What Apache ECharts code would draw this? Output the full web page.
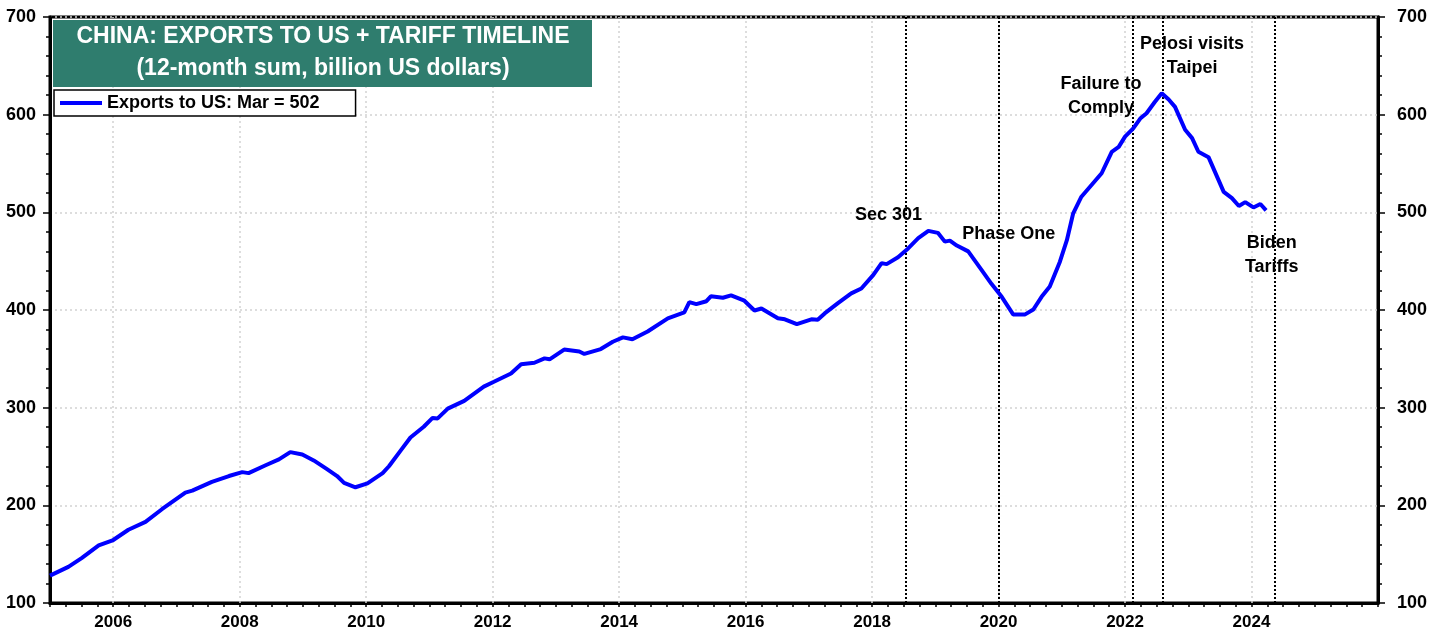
<!DOCTYPE html>
<html>
<head>
<meta charset="utf-8">
<script src="https://cdn.jsdelivr.net/npm/echarts@6/dist/echarts.min.js"></script>
<style>
  html, body { margin: 0; padding: 0; background: #fff; }
  #chart { width: 1439px; height: 637px; }
</style>
</head>
<body>
<div id="chart"></div>
<script>
// 12-month sum of China's exports to the US, billion USD
const dates = [
  2005.0, 2005.29, 2005.5, 2005.77, 2006.0, 2006.24, 2006.51, 2006.77, 2007.14, 2007.25,
  2007.56, 2007.83, 2008.04, 2008.14, 2008.41, 2008.62, 2008.8, 2008.99, 2009.17, 2009.38,
  2009.54, 2009.65, 2009.83, 2010.02, 2010.26, 2010.36, 2010.55, 2010.7, 2010.91, 2011.05,
  2011.13, 2011.29, 2011.55, 2011.86, 2012.02, 2012.29, 2012.45, 2012.66, 2012.82, 2012.9,
  2013.13, 2013.37, 2013.45, 2013.71, 2013.9, 2014.06, 2014.21, 2014.45, 2014.77, 2015.03,
  2015.11, 2015.22, 2015.38, 2015.45, 2015.64, 2015.77, 2015.98, 2016.14, 2016.25, 2016.51,
  2016.62, 2016.81, 2017.04, 2017.14, 2017.25, 2017.46, 2017.67, 2017.83, 2018.02, 2018.15,
  2018.23, 2018.41, 2018.57, 2018.73, 2018.89, 2019.04, 2019.15, 2019.23, 2019.34, 2019.52,
  2019.73, 2019.89, 2020.05, 2020.23, 2020.42, 2020.55, 2020.68, 2020.81, 2020.97, 2021.08,
  2021.18, 2021.31, 2021.47, 2021.63, 2021.79, 2021.9, 2022.0, 2022.13, 2022.24, 2022.34,
  2022.47, 2022.58, 2022.69, 2022.79, 2022.95, 2023.06, 2023.16, 2023.32, 2023.56, 2023.69,
  2023.8, 2023.9, 2024.03, 2024.14, 2024.23
];
const exportsToUS = [
  128, 137, 146, 159, 164.5, 175, 183, 196, 213, 215,
  224, 230, 234, 233, 241, 247, 254.5, 252, 246, 237,
  230, 223, 218.5, 222.5, 233, 240, 256.5, 269.5, 280.5, 289.5,
  289, 299, 307, 321.5, 326.5, 335, 344.5, 346, 350.5, 349.5,
  359.5, 357.5, 355, 360, 367.5, 372, 370, 378, 391.5, 397.5,
  408, 406, 409, 414, 412.5, 415, 409.5, 399.5, 401.5, 391.5,
  390.5, 385.5, 390.5, 390, 396.5, 407, 417, 422, 436, 448,
  447, 454, 463, 473.5, 481, 479, 470, 471, 466, 460,
  441, 426.5, 413.5, 395.5, 395.5, 400.5, 413.5, 424, 449.5, 471.5,
  499, 516, 528, 540, 562, 567, 577.5, 586, 596, 601.5,
  613, 622, 615.5, 608, 584.5, 576, 562, 556.5, 521, 514.5,
  506.5, 510.5, 505, 508.5, 502
];

// tariff timeline events
const eventDates = [2018.53, 2020.0, 2022.12, 2022.59, 2024.36];
const eventLabels = ['Sec 301', 'Phase One', 'Failure to\nComply', 'Pelosi visits\nTaipei', 'Biden\nTariffs'];

const gridYears = [2006, 2008, 2010, 2012, 2014, 2016, 2018, 2020, 2022, 2024];

const FONT = '"Liberation Sans", Arial, sans-serif';

// where each event label sits (x in years, y in billions)
const labelSpots = [[2018.26, 497], [2020.16, 478], [2021.62, 619], [2023.06, 660], [2024.32, 456]];

const chart = echarts.init(document.getElementById('chart'));

const yAxisBase = {
  type: 'value',
  min: 100,
  max: 700,
  interval: 100,
  axisLine: { show: true, lineStyle: { color: '#000', width: 3 } },
  axisTick: { show: true, length: 7, lineStyle: { color: '#000', width: 1.5 } },
  minorTick: { show: true, splitNumber: 5, length: 4, lineStyle: { color: '#000', width: 1.5 } },
  axisLabel: { color: '#000', fontSize: 18, fontWeight: 'bold', fontFamily: FONT },
};

chart.setOption({
  animation: false,
  backgroundColor: '#fff',
  grid: { left: 50, right: 61, top: 17, bottom: 34, show: true, borderColor: '#000', borderWidth: 3 },
  xAxis: {
    type: 'value',
    min: 2005,
    max: 2026,
    interval: 1,
    axisLine: { show: true, onZero: false, lineStyle: { color: '#000', width: 3 } },
    axisTick: { show: true, length: 4, lineStyle: { color: '#000', width: 1.5 } },
    minorTick: { show: true, splitNumber: 4, length: 4, lineStyle: { color: '#000', width: 1.5 } },
    splitLine: { show: false },
    axisLabel: {
      color: '#000', fontSize: 17, fontWeight: 'bold', fontFamily: FONT, margin: 11,
      formatter: v => (v % 2 === 0 && v < 2026 ? String(v) : ''),
    },
  },
  yAxis: [
    Object.assign({}, yAxisBase, {
      position: 'left',
      axisLabel: Object.assign({}, yAxisBase.axisLabel, { margin: 14 }),
      splitLine: { show: true, lineStyle: { color: '#d2d2d2', type: [2, 3], width: 1.5 } },
    }),
    Object.assign({}, yAxisBase, {
      position: 'right',
      axisLabel: Object.assign({}, yAxisBase.axisLabel, { margin: 19 }),
      splitLine: { show: false },
    }),
  ],
  legend: {
    left: 54,
    top: 90,
    z: 20,
    padding: [4, 36, 4, 6],
    backgroundColor: '#fff',
    borderColor: '#000',
    borderWidth: 1.5,
    borderRadius: 0,
    itemWidth: 42,
    itemHeight: 4,
    icon: 'rect',
    textStyle: { color: '#000', fontSize: 18, fontWeight: 'bold', fontFamily: FONT },
    formatter: name => name + ': Mar = ' + exportsToUS[exportsToUS.length - 1],
    data: ['Exports to US'],
  },
  graphic: [
    {
      type: 'group',
      left: 53,
      top: 20,
      z: 20,
      children: [
        { type: 'rect', z: 20, shape: { x: 0, y: 0, width: 539, height: 67 }, style: { fill: '#2f7d6e' } },
        {
          type: 'text', z: 21, x: 270, y: 17,
          style: { text: 'CHINA: EXPORTS TO US + TARIFF TIMELINE', fill: '#fff', font: 'bold 23px ' + FONT, align: 'center', verticalAlign: 'middle' },
        },
        {
          type: 'text', z: 21, x: 270, y: 49,
          style: { text: '(12-month sum, billion US dollars)', fill: '#fff', font: 'bold 23px ' + FONT, align: 'center', verticalAlign: 'middle' },
        },
      ],
    },
  ],
  series: [
    {
      // gridlines and event markers
      name: 'markers',
      type: 'line',
      data: [],
      silent: true,
      z: 1,
      markLine: {
        silent: true,
        z: 1,
        symbol: 'none',
        animation: false,
        label: { show: false },
        data: gridYears.map(y => ({ xAxis: y, lineStyle: { color: '#d2d2d2', type: [2, 3], width: 1.5 } }))
          .concat(eventDates.map(d => ({ xAxis: d, lineStyle: { color: '#000', type: [2, 2], width: 2 } }))),
      },
      markPoint: {
        silent: true,
        z: 4,
        symbol: 'circle',
        symbolSize: 0,
        label: {
          show: true,
          position: 'inside',
          formatter: '{b}',
          color: '#000',
          fontSize: 18,
          fontWeight: 'bold',
          fontFamily: FONT,
          lineHeight: 24,
          align: 'center',
        },
        data: eventLabels.map((l, i) => ({ name: l, coord: labelSpots[i] })),
      },
    },
    {
      name: 'Exports to US',
      type: 'line',
      z: 3,
      showSymbol: false,
      symbol: 'none',
      color: '#0000ff',
      lineStyle: { color: '#0000ff', width: 4 },
      data: dates.map((d, i) => [d, exportsToUS[i]]),
    },
  ],
});
</script>
</body>
</html>
